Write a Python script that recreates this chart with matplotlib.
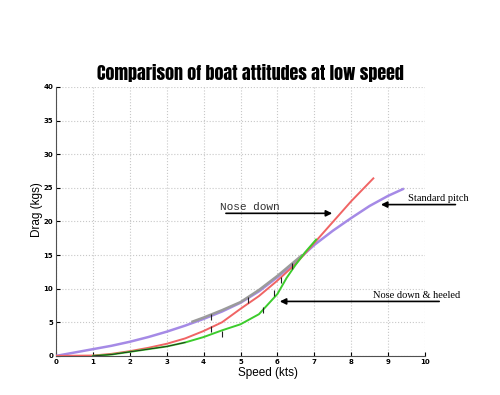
import numpy as np
import matplotlib
matplotlib.use("Agg")
from matplotlib import pyplot as plt

# standard pitch (purple)
std_x = [0, 0.5, 1, 1.5, 2, 2.5, 3, 3.5, 4, 4.5, 5, 5.5, 6, 6.5, 7, 7.5, 8, 8.5, 9, 9.4]
std_y = [0, 0.5, 1.0, 1.5, 2.1, 2.8, 3.6, 4.5, 5.5, 6.6, 7.9, 9.6, 11.7, 14.0, 16.5, 18.6, 20.5, 22.3, 23.8, 24.8]

# raw standard pitch run (grey)
raw_x = [3.7, 4.0, 4.5, 5.0, 5.5, 6.0, 6.5, 6.65]
raw_y = [5.1, 5.7, 6.8, 8.0, 9.8, 11.9, 14.2, 14.9]

# nose down (red)
nd_x = [0, 1, 1.5, 2, 2.5, 3, 3.5, 4, 4.5, 5, 5.5, 6, 6.5, 7, 7.5, 8, 8.6]
nd_y = [0, 0.05, 0.3, 0.7, 1.2, 1.8, 2.6, 3.7, 5.0, 7.0, 8.9, 11.2, 13.7, 16.8, 19.9, 23.0, 26.4]

# nose down & heeled (green)
ndh_x = [1.0, 1.5, 2, 2.5, 3, 3.5, 4, 4.5, 5, 5.5, 6, 6.25, 6.5, 6.75, 7.05]
ndh_y = [0.0, 0.2, 0.6, 1.0, 1.4, 2.0, 2.8, 3.8, 4.7, 6.2, 9.2, 11.6, 13.6, 15.4, 17.3]

# sample marks
mark_x = [4.2, 4.5, 5.6, 5.9, 6.1, 6.4, 4.2, 5.2]
mark_y = [4.0, 3.3, 6.8, 9.4, 11.3, 13.4, 5.8, 8.3]

fig = plt.figure(figsize=(5, 3.95), dpi=100)
ax = fig.add_axes([0.112, 0.099, 0.738, 0.681])

ax.plot(std_x, std_y, color='#a58ae6', lw=1.8, zorder=3)
ax.plot(raw_x, raw_y, color='#9b9b9b', lw=1.8, zorder=4)
ax.plot(nd_x, nd_y, color='#f06464', lw=1.4, zorder=5)
ax.plot(ndh_x, ndh_y, color='#3ccc2c', lw=1.4, zorder=6)
ax.plot(ndh_x[:6], ndh_y[:6], color='#202020', lw=0.6, zorder=7)
ax.plot(mark_x, mark_y, '|', color='#202020', ms=4, mew=0.8, zorder=8)

ax.set_xlim(0, 10)
ax.set_ylim(0, 40)
ax.set_xticks(range(0, 11))
ax.set_yticks(range(0, 41, 5))
ax.tick_params(direction='in', length=3, labelsize=5, pad=2)
for lab in ax.get_xticklabels() + ax.get_yticklabels():
    lab.set_fontweight('bold')
ax.grid(True, linestyle=':', color='#c8c8c8', linewidth=0.8)
ax.spines['top'].set_visible(False)
ax.spines['right'].set_visible(False)
ax.spines['left'].set_color('#505050')
ax.spines['bottom'].set_color('#505050')

ax.set_xlabel("Speed (kts)", fontsize=8.5, family='Liberation Sans')
ax.set_ylabel("Drag (kgs)", fontsize=8.5, family='Liberation Sans')
ax.xaxis.set_label_coords(0.575, -0.04)
ax.yaxis.set_label_coords(-0.035, 0.543)

fig.text(0.5, 0.815, "Comparison of boat attitudes at low speed",
         ha='center', va='center', fontsize=13,
         family=['Anton', 'Oswald', 'Archivo Narrow', 'DejaVu Sans'])

arrow = dict(arrowstyle='-|>', color='black', lw=1.2, mutation_scale=9)
ax.annotate("", xy=(7.56, 21.2), xytext=(4.53, 21.2), arrowprops=arrow, annotation_clip=False)
ax.text(5.26, 22.1, "Nose down", ha='center', va='center', fontsize=8,
        family='Liberation Mono', color='#303030')
ax.annotate("", xy=(8.73, 22.5), xytext=(10.9, 22.5), arrowprops=arrow, annotation_clip=False)
ax.text(10.35, 23.4, "Standard pitch", ha='center', va='center', fontsize=7.5,
        family='Liberation Serif', clip_on=False)
ax.annotate("", xy=(5.99, 8.1), xytext=(10.46, 8.1), arrowprops=arrow, annotation_clip=False)
ax.text(9.78, 9.0, "Nose down & heeled", ha='center', va='center', fontsize=7.5,
        family='Liberation Serif', clip_on=False)

fig.savefig("out.png", dpi=100)
